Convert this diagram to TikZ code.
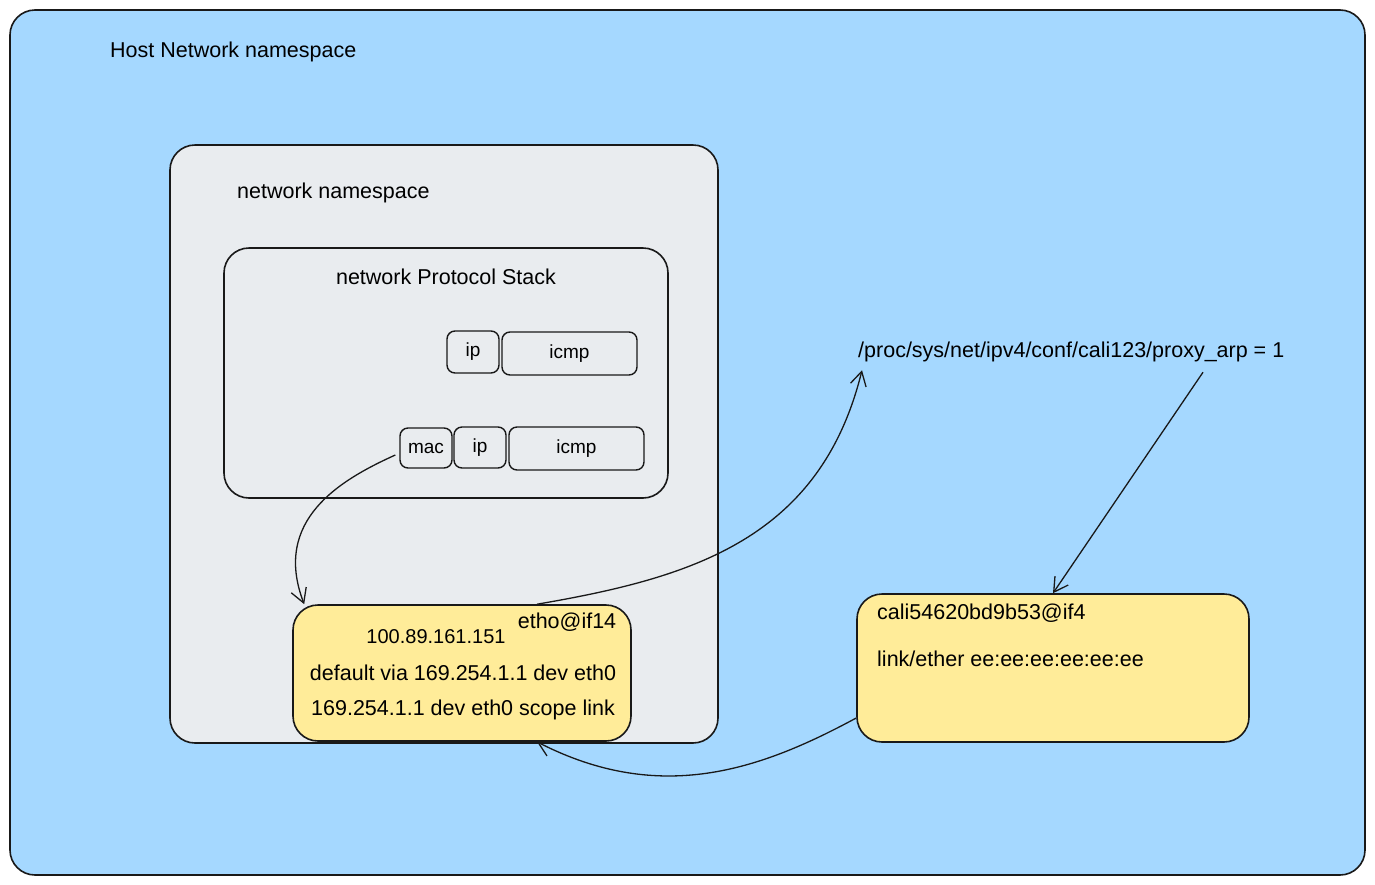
\documentclass[tikz,border=0pt]{standalone}
\usepackage{fontspec}
\setmainfont{Liberation Sans}
\usetikzlibrary{arrows.meta}
\definecolor{hostblue}{HTML}{A5D8FF}
\definecolor{nsgray}{HTML}{E9ECEF}
\definecolor{ifyellow}{HTML}{FFEC99}
\tikzset{
  bigbox/.style={draw=black!90, line width=1.6pt, rounded corners=25pt, inner sep=0pt},
  smallbox/.style={draw=black!90, line width=1.4pt, rounded corners=8pt, fill=nsgray, inner sep=0pt, font=\fontsize{19}{22}\selectfont},
  lbl/.style={inner sep=0pt, font=\fontsize{21.5}{25}\selectfont},
  arr/.style={draw=black!90, line width=1.3pt, -{Straight Barb[length=14pt,width=16pt,line width=1.3pt]}},
}
\begin{document}
\begin{tikzpicture}[x=1pt,y=-1pt]
\useasboundingbox (0,0) rectangle (1375,884);
% host
\node[bigbox, fill=hostblue, minimum width=1355pt, minimum height=865pt] (host) at (687.5,442.5) {};
\node[lbl, anchor=west] (hostlbl) at (110,52) {Host Network namespace};
% network namespace
\node[bigbox, fill=nsgray, minimum width=548pt, minimum height=598pt] (ns) at (444,444) {};
\node[lbl, anchor=west] (nslbl) at (237,193) {network namespace};
% protocol stack
\node[bigbox, fill=nsgray, minimum width=444pt, minimum height=250pt] (stack) at (446,373) {};
\node[lbl] (stacklbl) at (446,277) {network Protocol Stack};
% upper row
\node[smallbox, minimum width=52pt, minimum height=42pt] (ip1) at (473,352) {ip};
\node[smallbox, minimum width=135pt, minimum height=43pt] (icmp1) at (569.5,353.5) {icmp};
% lower row
\node[smallbox, minimum width=52pt, minimum height=40pt] (mac) at (426,448) {mac};
\node[smallbox, minimum width=52pt, minimum height=41pt] (ip2) at (480,447.5) {ip};
\node[smallbox, minimum width=135pt, minimum height=43pt] (icmp2) at (576.5,448.5) {icmp};
% eth0 box
\node[bigbox, fill=ifyellow, minimum width=338pt, minimum height=136pt] (eth) at (462,673) {};
\node[lbl, font=\fontsize{20}{24}\selectfont] (ethip) at (436,637) {100.89.161.151};
\node[lbl] (ethname) at (567,622) {etho@if14};
\node[lbl] (ethr1) at (463,673) {default via 169.254.1.1 dev eth0};
\node[lbl] (ethr2) at (463,710) {169.254.1.1 dev eth0 scope link};
% cali box
\node[bigbox, fill=ifyellow, minimum width=392pt, minimum height=148pt] (cali) at (1053,668) {};
\node[lbl, anchor=west] (caliname) at (877,613) {cali54620bd9b53@if4};
\node[lbl, anchor=west] (calimac) at (877,659) {link/ether ee:ee:ee:ee:ee:ee};
% proc
\node[lbl, anchor=west] (proc) at (858,352) {/proc/sys/net/ipv4/conf/cali123/proxy\_arp = 1};
% connectors
\coordinate (macout) at ([xshift=-4pt,yshift=-7pt]mac.west);
\coordinate (ethtop1) at ([xshift=12pt]eth.north west);
\coordinate (ethtop2) at ([xshift=75pt]eth.north);
\coordinate (procin) at ([xshift=4pt,yshift=-8pt]proc.south west);
\coordinate (procout) at ([xshift=1203pt-858pt,yshift=-10pt]proc.south west);
\coordinate (calitop) at (cali.north);
\coordinate (caliout) at ([yshift=-50pt]cali.west);
\coordinate (ethbot) at ([xshift=75pt]eth.south);
\draw[arr] (macout) .. controls (340,480) and (272,520) .. (ethtop1);
\draw[arr] (ethtop2) .. controls (690,578) and (820,540) .. (procin);
\draw[arr] (procout) -- (calitop);
\draw[arr] (caliout) .. controls (760,770) and (660,805) .. (ethbot);
\end{tikzpicture}
\end{document}
